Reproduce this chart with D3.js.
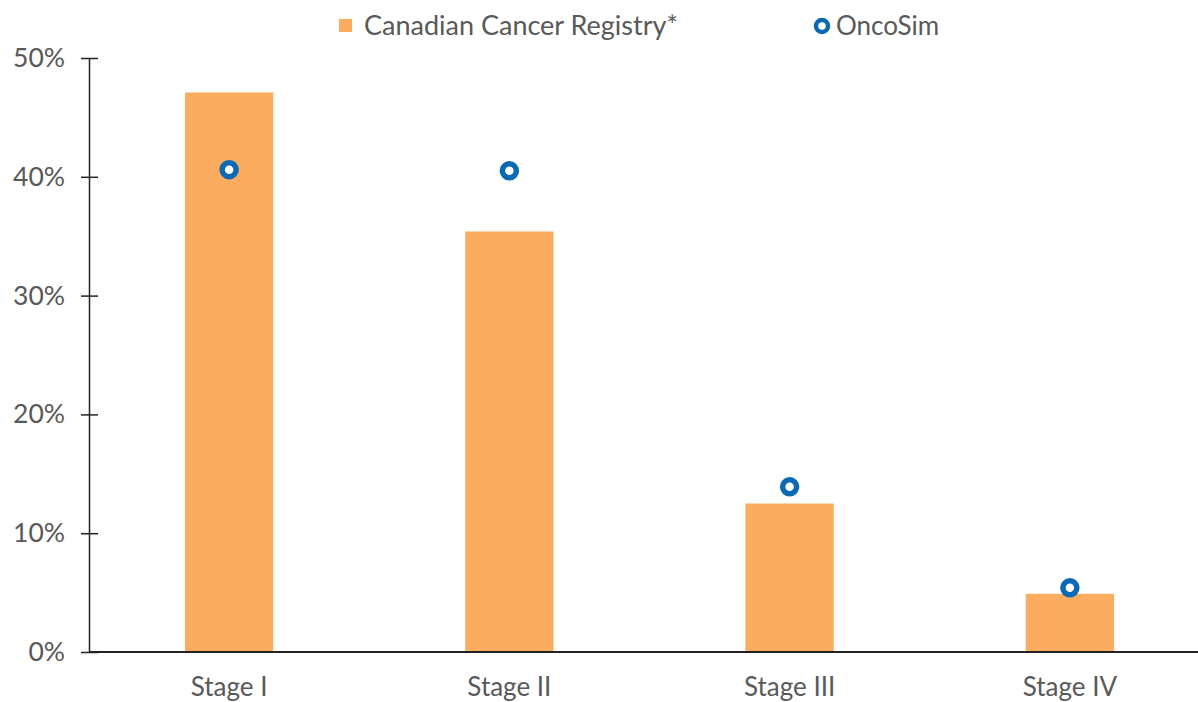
<!DOCTYPE html>
<html>
<head>
<meta charset="utf-8">
<script src="https://cdn.jsdelivr.net/npm/d3@7"></script>
<style>
  body { margin: 0; background: #fff; }
  text { font-family: Lato, "Open Sans", sans-serif; fill: #595959; }
</style>
</head>
<body>
<script>
// data
var stages = ["Stage I", "Stage II", "Stage III", "Stage IV"];
var registry = [0.471, 0.354, 0.125, 0.049];
var oncosim = [0.406, 0.405, 0.139, 0.054];
var yTicks = [0, 0.1, 0.2, 0.3, 0.4, 0.5];

var width = 1198, height = 702;
var fontSize = "26px";

var svg = d3.select("body").append("svg")
    .attr("width", width)
    .attr("height", height);

var x = d3.scaleBand()
    .domain(stages)
    .range([89, 1210])
    .paddingInner(0.685)
    .paddingOuter(0.3425);

var y = d3.scaleLinear()
    .domain([0, 0.5])
    .range([652, 58]);

// bars
svg.selectAll(".bar")
    .data(stages)
  .enter().append("rect")
    .attr("class", "bar")
    .attr("x", function(d) { return x(d); })
    .attr("width", x.bandwidth())
    .attr("y", function(d, i) { return y(registry[i]); })
    .attr("height", function(d, i) { return y(0) - y(registry[i]); })
    .style("fill", "#FBAC5E");

// y axis
var yAxis = svg.append("g")
    .attr("transform", "translate(89,0)")
    .call(d3.axisLeft(y).tickValues(yTicks).tickFormat(d3.format(".0%")).tickSize(0));
yAxis.select(".domain").attr("stroke", "#222").attr("stroke-width", 1.5);
yAxis.selectAll(".tick line").remove();
yAxis.selectAll(".tick").append("line")
    .attr("x1", -8).attr("x2", 9)
    .attr("stroke", "#222").attr("stroke-width", 1.5);
yAxis.selectAll(".tick text")
    .attr("x", -24)
    .style("font-size", "26.5px")
    .style("font-family", "Lato, sans-serif")
    .attr("fill", "#595959");

// x axis
var xAxis = svg.append("g")
    .attr("transform", "translate(0,652)")
    .call(d3.axisBottom(x).tickSize(0));
xAxis.select(".domain").remove();
svg.append("line")
    .attr("x1", 89).attr("x2", width)
    .attr("y1", y(0)).attr("y2", y(0))
    .attr("stroke", "#222").attr("stroke-width", 2.2);
xAxis.selectAll(".tick text")
    .attr("y", 26)
    .style("font-size", fontSize)
    .style("font-family", "Lato, sans-serif")
    .attr("fill", "#595959");

// oncosim points
svg.selectAll(".dot")
    .data(stages)
  .enter().append("circle")
    .attr("class", "dot")
    .attr("cx", function(d) { return x(d) + x.bandwidth() / 2; })
    .attr("cy", function(d, i) { return y(oncosim[i]); })
    .attr("r", 7)
    .style("fill", "#fff")
    .style("stroke", "#0A69B3")
    .style("stroke-width", 5.5);

// legend
var legend = svg.append("g");
legend.append("rect")
    .attr("x", 339).attr("y", 19)
    .attr("width", 13).attr("height", 13)
    .style("fill", "#FBAC5E");
legend.append("text")
    .attr("x", 364).attr("y", 26)
    .attr("dy", "0.35em")
    .style("font-size", "27px")
    .text("Canadian Cancer Registry*");
legend.append("circle")
    .attr("cx", 822).attr("cy", 26)
    .attr("r", 6)
    .style("fill", "#fff")
    .style("stroke", "#0A69B3")
    .style("stroke-width", 4.5);
legend.append("text")
    .attr("x", 836).attr("y", 26)
    .attr("dy", "0.35em")
    .style("font-size", fontSize)
    .text("OncoSim");
</script>
</body>
</html>
